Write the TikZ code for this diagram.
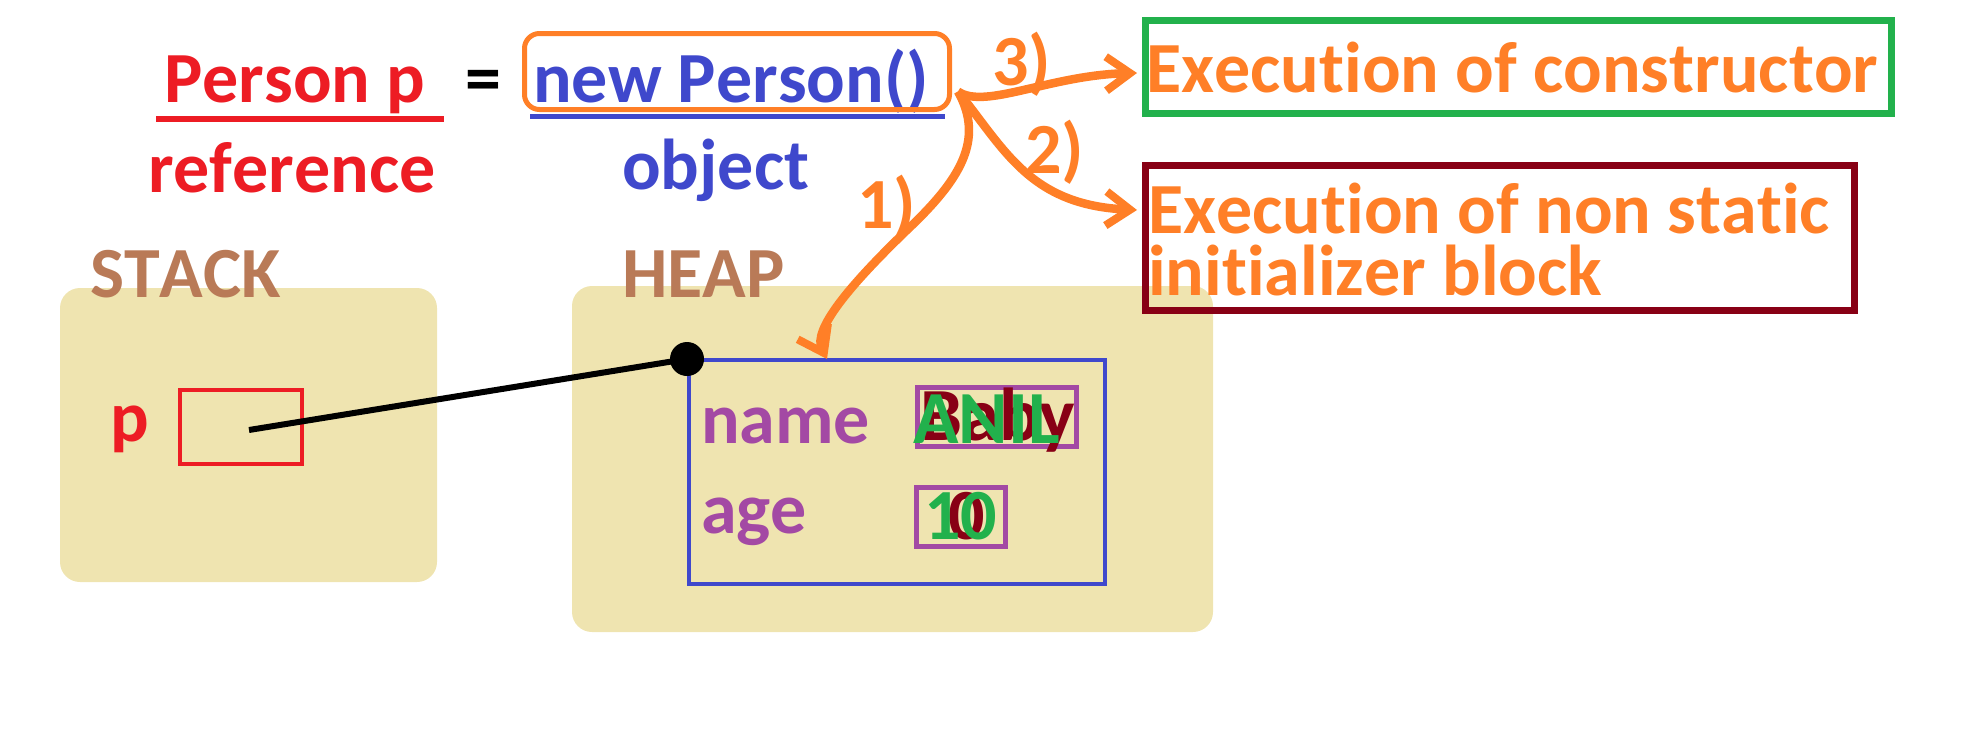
\documentclass[tikz,border=0pt]{standalone}
\usepackage{fontspec}
\setmainfont{Carlito}[Ligatures={NoCommon,NoContextual},Kerning=Off]
\usetikzlibrary{arrows.meta,calc}
\definecolor{pred}{HTML}{ED1C24}
\definecolor{pblue}{HTML}{3F48CC}
\definecolor{porange}{HTML}{FF7F27}
\definecolor{pgreen}{HTML}{22B14C}
\definecolor{pdark}{HTML}{880015}
\definecolor{pbrown}{HTML}{B97A57}
\definecolor{pbeige}{HTML}{EFE4B0}
\definecolor{ppurple}{HTML}{A349A4}
\begin{document}
\begin{tikzpicture}[x=1pt,y=-1pt,
  txt/.style={anchor=base west,inner sep=0pt,font=\fontsize{72}{62}\selectfont\bfseries},
  mem/.style={fill=pbeige,rounded corners=20pt},
  frame/.style={draw,inner sep=0pt},
  arr/.style={draw=porange,line width=8.5pt,-{Straight Barb[length=24pt,width=34pt,line width=8pt]}}]
\path[use as bounding box] (0,0) rectangle (1962,744);
% memory areas
\path[mem] (60,288) rectangle (437,582);
\path[mem] (572,286) rectangle (1213,632);
% top statement
\node[txt,text=pred] (person) at (164,102) {Person p};
\draw[pred,line width=6pt] (156,119) -- (444,119);
\node[txt] (eq) at (465,102) {=};
\node[txt,text=pblue] (newp) at (533,102) {new Person()};
\draw[pblue,line width=5pt] (530,116) -- (945,116);
\node[frame,draw=porange,line width=5pt,rounded corners=15pt,minimum width=425pt,minimum height=76pt] (newbox) at (737,71.5) {};
\node[txt,text=pred] (refl) at (148,192) {reference};
\node[txt,text=pblue] (objl) at (622,189) {object};
% result boxes
\node[frame,draw=pgreen,line width=7pt,minimum width=746pt,minimum height=93pt] (ctor) at (1518.5,67) {};
\node[txt,text=porange] (ctort) at (1146,92) {Execution of constructor};
\node[frame,draw=pdark,line width=7pt,minimum width=709pt,minimum height=145pt] (inits) at (1500,238) {};
\node[txt,text=porange] (initt1) at (1148,233) {Execution of non static};
\node[txt,text=porange] (initt2) at (1148,295) {initializer block};
% stack / heap labels
\node[txt,text=pbrown] (stackl) at (90,297) {STACK};
\node[txt,text=pbrown] (heapl) at (622,297) {HEAP};
% stack content
\node[txt,text=pred] (pl) at (110,441) {p};
\node[frame,draw=pred,line width=4pt,minimum width=122pt,minimum height=74pt] (pbox) at (241,427) {};
% heap object
\node[frame,draw=pblue,line width=4pt,minimum width=416pt,minimum height=224pt] (obj) at (897,472) {};
\node[txt,text=ppurple] (namel) at (701,443) {name};
\node[txt,text=ppurple] (agel) at (701,533) {age};
\node[frame,draw=ppurple,line width=5pt,minimum width=159pt,minimum height=59pt] (namebox) at (997,417) {};
\node[frame,draw=ppurple,line width=5pt,minimum width=89pt,minimum height=59pt] (agebox) at (961,517) {};
\node[txt,text=pdark,font=\fontsize{75}{62}\selectfont\bfseries] (baby) at (920,440) {Baby};
\node[txt,text=pgreen,font=\fontsize{75}{62}\selectfont\bfseries] (anil) at (913,443) {ANIL};
\node[txt,text=pdark] (zero) at (948,539) {0};
\node[txt,text=pgreen] (ten) at (924,539) {10};
% reference link
\node[circle,fill=black,minimum size=34pt,inner sep=0pt] (dot) at (687,359) {};
\draw[line width=6pt] ($(pbox.center)+(8,3)$) -- (dot.center);
% arrows
\coordinate (src) at ($(newbox.east)+(6,20)$);
\draw[arr] (src) .. controls (985,110) and (1050,75) .. ($(ctor.west)+(-5,6)$);
\draw[arr] (src) .. controls (1005,150) and (1030,205) .. ($(inits.west)+(-5,-28)$);
\draw[arr] (src) .. controls (985,140) and (960,180) .. (907,230) .. controls (850,285) and (812,330) .. ($(obj.north west)+(140,1)$);
\node[txt,text=porange] (l3) at (992,85) {3)};
\node[txt,text=porange] (l2) at (1025,173) {2)};
\node[txt,text=porange] (l1) at (857,228) {1)};
\end{tikzpicture}
\end{document}
